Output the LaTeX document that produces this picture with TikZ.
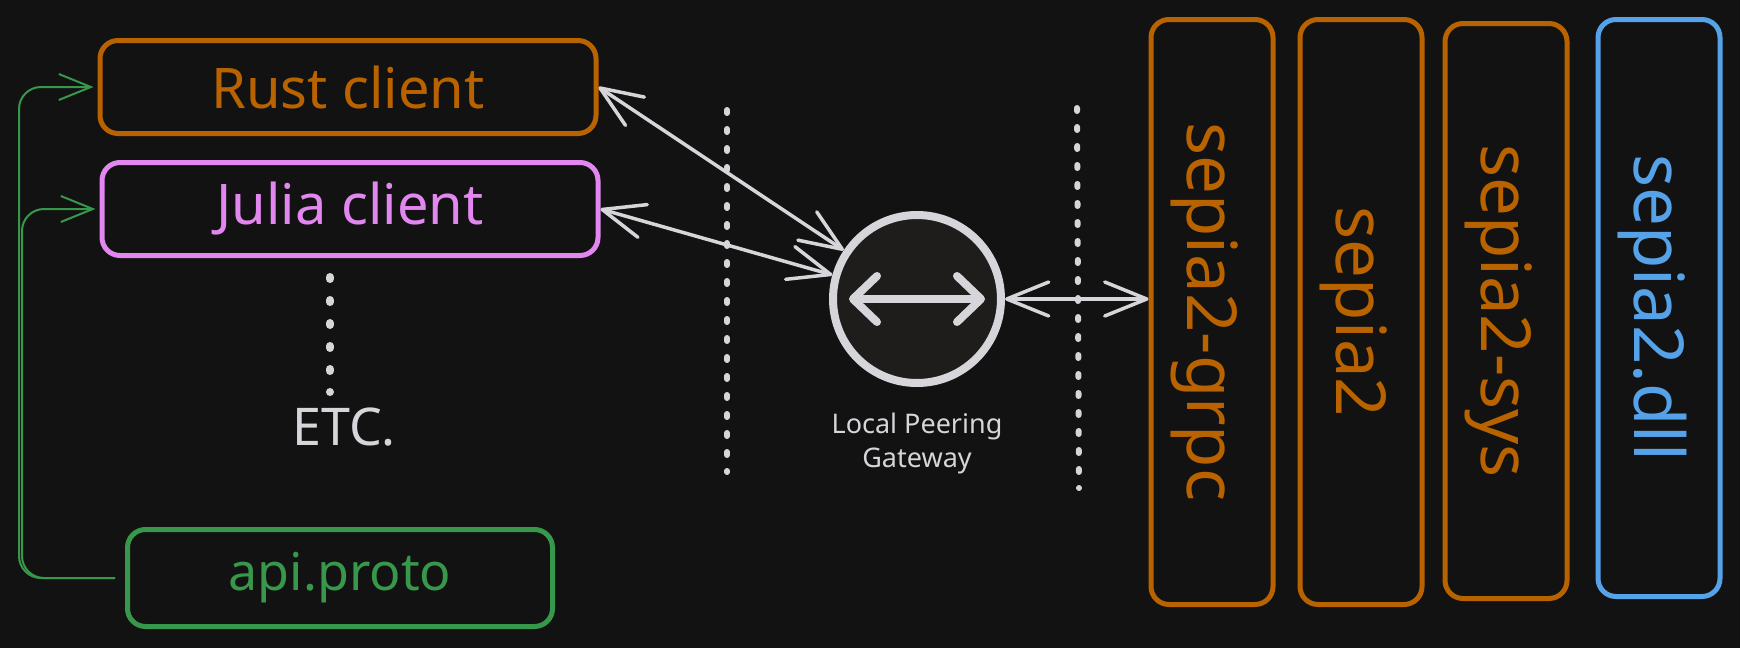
\documentclass[tikz,border=0pt]{standalone}
\usepackage{fontspec}
\setmainfont{Noto Sans}
\usepackage{tikz}
\usetikzlibrary{positioning, arrows.meta, calc}

\definecolor{bgdark}{HTML}{121212}
\definecolor{lightstroke}{HTML}{D6D6DA}
\definecolor{gwfill}{HTML}{1E1D1C}
\definecolor{rustorange}{HTML}{B96300}
\definecolor{juliapink}{HTML}{E286F0}
\definecolor{protogreen}{HTML}{37974A}
\definecolor{dllblue}{HTML}{56A2E8}

\tikzset{
    box/.style={draw=#1, text=#1, line width=5pt, rounded corners=18pt, fill=bgdark, inner sep=0pt},
    filebox/.style={box=#1, minimum width=496pt, minimum height=93pt, font=\fontsize{56}{60}\selectfont},
    libbox/.style={box=#1, minimum width=122pt, font=\fontsize{69}{70}\selectfont},
    link/.style={draw=lightstroke, line width=3.5pt, line cap=round,
        {Straight Barb[length=42pt,width=34pt,round]}-{Straight Barb[length=42pt,width=34pt,round]}},
    swap/.style={draw=lightstroke, line width=8pt, line cap=round,
        {Straight Barb[length=24pt,width=46pt,round]}-{Straight Barb[length=24pt,width=46pt,round]}},
    feed/.style={draw=protogreen, line width=2pt, rounded corners=22pt,
        -{Straight Barb[length=32pt,width=26pt]}},
    dotline/.style={draw=lightstroke, line width=6pt, line cap=round, dash pattern=on 3pt off 16pt},
    etcdots/.style={draw=lightstroke, line width=8pt, line cap=round, dash pattern=on 2pt off 21pt},
    note/.style={text=lightstroke, align=center}
}

\begin{document}
\begin{tikzpicture}[x=1pt, y=-1pt]
    % background
    \fill[bgdark] (0,0) rectangle (1740,648);
    \useasboundingbox (0,0) rectangle (1740,648);

    % clients
    \node[filebox=rustorange] (rust) at (348,87) {Rust client};
    \node[filebox=juliapink] (julia) at (350,209) {Julia client};
    \node[filebox=protogreen, minimum width=425pt, minimum height=97pt,
        font=\fontsize{52}{60}\selectfont] (proto) at (340,578) {api.proto};

    \draw[etcdots] (330,277) -- (330,392);
    \node[note, font=\fontsize{52}{56}\selectfont] (etc) at (344,427) {ETC.};

    % separators
    \draw[dotline] (727,110) -- (727,472);
    \draw[dotline] (1077,108) -- (1079,488);

    % gateway
    \node[circle, draw=lightstroke, fill=gwfill, line width=8pt, minimum size=168pt] (gw) at (917,299) {};
    \draw[swap] ([xshift=-68pt]gw.center) -- ([xshift=68pt]gw.center);
    \node[note, below=22pt of gw, font=\fontsize{27}{34}\selectfont] (gwlabel) {Local Peering\\Gateway};

    % sepia crates
    \foreach \name/\xc/\yc/\h/\co/\txt in {
        grpc/1212/312/585/rustorange/sepia2-grpc,
        core/1361/312/585/rustorange/sepia2,
        sys/1506/311/575/rustorange/sepia2-sys,
        dll/1659/308/577/dllblue/sepia2.dll}{

        \node[libbox=\co, minimum height=\h pt] (\name) at (\xc,\yc) {\hspace{-14pt}\rotatebox{-90}{\txt}};
    }

    % connections
    \draw[link] (rust.east) -- (gw);
    \draw[link] (julia.east) -- (gw);
    \draw[link] (gw) -- (gw -| grpc.west);

    \draw[feed] ([xshift=-10pt]proto.west) -- ++(-96,0) |- ([xshift=-4pt]rust.west);
    \draw[feed] ([xshift=-10pt]proto.west) -- ++(-93,0) |- ([xshift=-4pt]julia.west);
\end{tikzpicture}
\end{document}
